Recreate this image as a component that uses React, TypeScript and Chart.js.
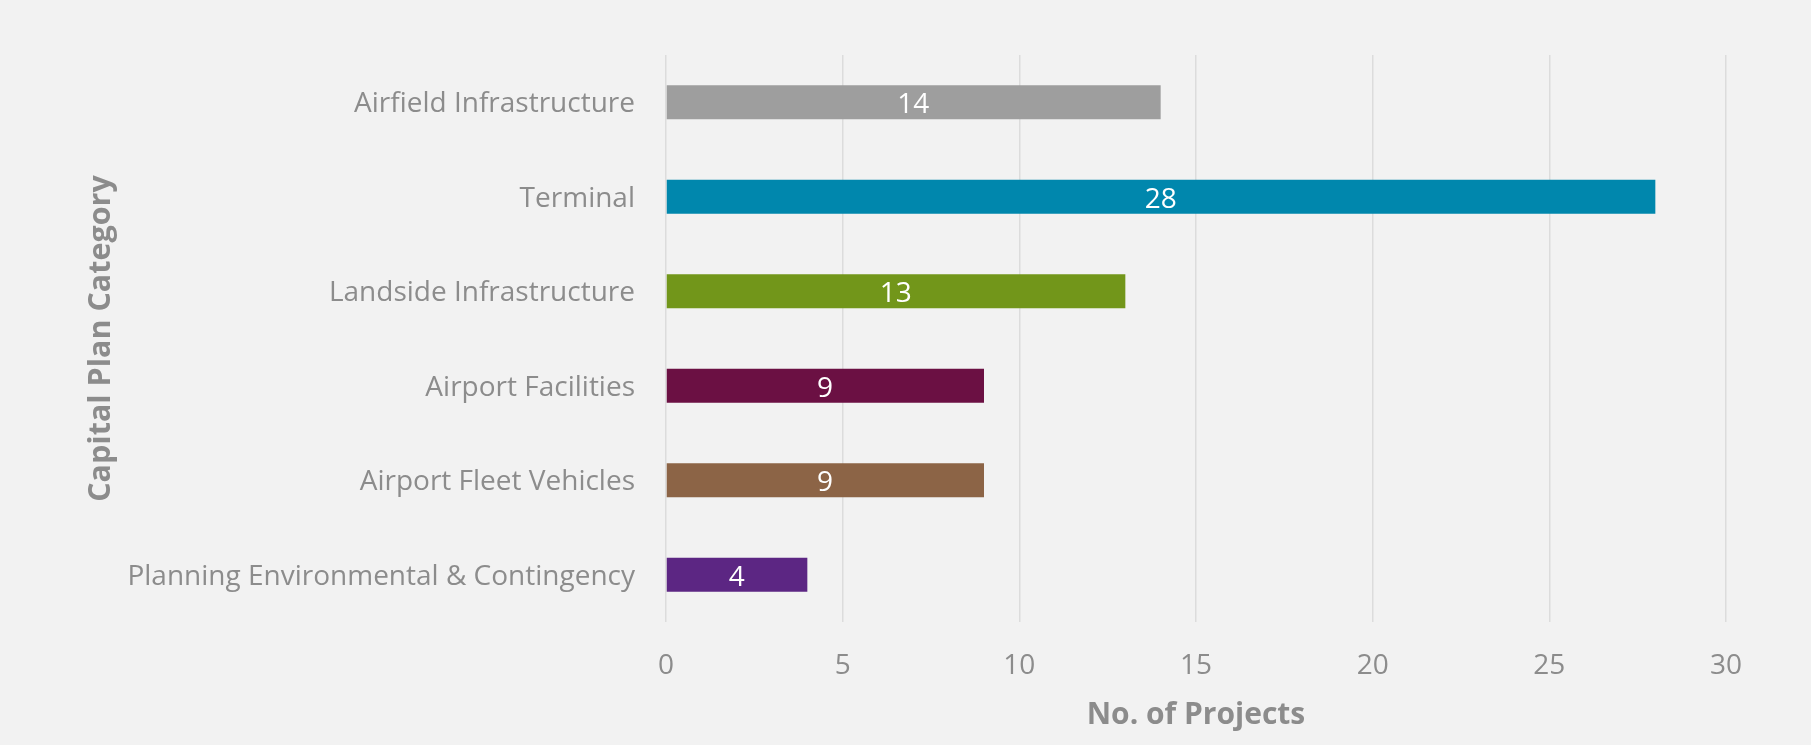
import React, { useEffect, useRef } from "react";
import { Chart, registerables } from "chart.js";

Chart.register(...registerables);

const categories = [
  "Airfield Infrastructure",
  "Terminal",
  "Landside Infrastructure",
  "Airport Facilities",
  "Airport Fleet Vehicles",
  "Planning Environmental & Contingency",
];
const projectCounts = [14, 28, 13, 9, 9, 4];
const barColors = ["#9E9E9E", "#0087AD", "#72961A", "#6B1043", "#8C6446", "#5C2683"];
const xTicks = [0, 5, 10, 15, 20, 25, 30];
const xTitle = "No. of Projects";
const yTitle = "Capital Plan Category";

const FONT = "'Open Sans', 'Noto Sans', sans-serif";
const TEXT_GRAY = "#8C8C8C";

const valueLabels = {
  id: "valueLabels",
  afterDatasetsDraw(chart: any) {
    const ctx = chart.ctx;
    const meta = chart.getDatasetMeta(0);
    const xs = chart.scales.x;
    ctx.save();
    ctx.fillStyle = "#FFFFFF";
    ctx.font = `28px ${FONT}`;
    ctx.textAlign = "center";
    ctx.textBaseline = "middle";
    meta.data.forEach((bar: any, i: number) => {
      const v = projectCounts[i];
      const cx = (xs.getPixelForValue(0) + xs.getPixelForValue(v)) / 2;
      ctx.fillText(String(v), cx, bar.y + 3);
    });
    ctx.restore();
  },
};

export default function App() {
  const ref = useRef<HTMLCanvasElement | null>(null);
  useEffect(() => {
    document.body.style.margin = "0";
    document.body.style.overflow = "hidden";
    if (!ref.current) return;
    const chart = new Chart(ref.current, {
      type: "bar",
      data: {
        labels: categories,
        datasets: [
          {
            data: projectCounts,
            backgroundColor: barColors,
            categoryPercentage: 1,
            barPercentage: 0.36,
          },
        ],
      },
      options: {
        indexAxis: "y",
        animation: false,
        responsive: true,
        maintainAspectRatio: false,
        layout: { padding: { left: 0, top: 55, right: 85, bottom: 0 } },
        plugins: {
          legend: { display: false },
          tooltip: { enabled: false },
        },
        scales: {
          x: {
            min: 0,
            max: 30,
            afterBuildTicks: (s: any) => {
              s.ticks = xTicks.map((v) => ({ value: v }));
            },
            afterFit: (s: any) => {
              s.height = 123;
            },
            grid: { color: "#DCDCDC", lineWidth: 1.5, drawTicks: false },
            border: { display: false },
            ticks: {
              color: TEXT_GRAY,
              padding: 27,
              font: { family: FONT, size: 28 },
            },
            title: {
              display: true,
              text: xTitle,
              color: TEXT_GRAY,
              font: { family: FONT, size: 30, weight: "bold" },
              padding: { top: 0, bottom: 12 },
            },
          },
          y: {
            afterFit: (s: any) => {
              s.width = 666;
            },
            grid: { display: false, drawTicks: false },
            border: { display: false },
            ticks: {
              color: TEXT_GRAY,
              padding: 31,
              labelOffset: 2,
              font: { family: FONT, size: 28 },
            },
            title: {
              display: true,
              text: yTitle,
              color: TEXT_GRAY,
              font: { family: FONT, size: 30.5, weight: "bold" },
              padding: { top: 83, bottom: 0 },
            },
          },
        },
      },
      plugins: [valueLabels],
    } as any);
    return () => chart.destroy();
  }, []);
  return (
    <div style={{ width: 1811, height: 745, background: "#F2F2F2", position: "relative" }}>
      <canvas ref={ref} />
    </div>
  );
}
